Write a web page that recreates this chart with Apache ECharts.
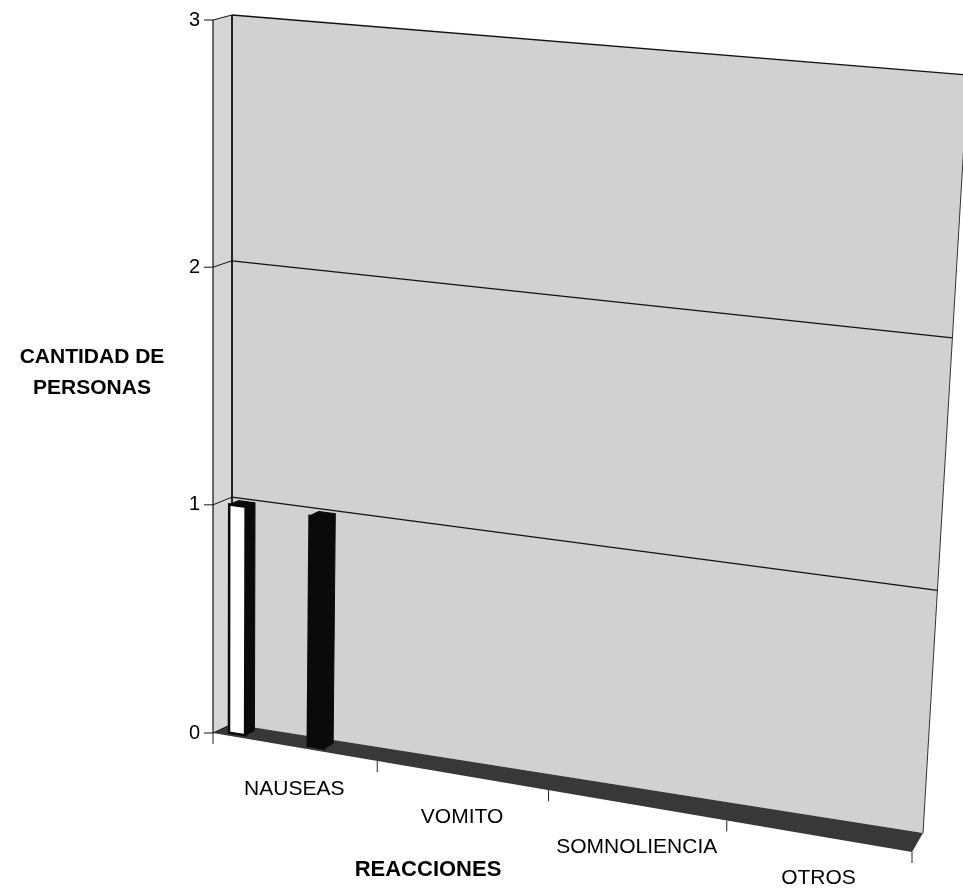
<!DOCTYPE html>
<html>
<head>
<meta charset="utf-8">
<title>Reacciones</title>
<script src="https://cdn.jsdelivr.net/npm/echarts@6/dist/echarts.min.js"></script>
<style>
  html, body { margin: 0; padding: 0; background: #ffffff; }
  #chart { width: 963px; height: 889px; }
</style>
</head>
<body>
<div id="chart"></div>
<script>
// Chart data
const categories = ['NAUSEAS', 'VOMITO', 'SOMNOLIENCIA', 'OTROS'];
const serieBlanca = [1, 0, 0, 0];
const serieNegra = [1, 0, 0, 0];
const valueTicks = [0, 1, 2, 3];
const yAxisName = ['CANTIDAD DE', 'PERSONAS'];
const xAxisName = 'REACCIONES';

const FONT = '"Liberation Sans", Arial, sans-serif';
const NCAT = categories.length;
const VMAX = valueTicks[valueTicks.length - 1];

// Perspective frame: front plane and back wall corners (screen px)
const FRONT = { bl: [213, 733], br: [912, 852], tl: [213, 20], tr: [954, 90] };
const BACK  = { bl: [232, 724], br: [923, 833], tl: [232, 15], tr: [968, 75] };

function lerp(a, b, k) { return [a[0] + (b[0] - a[0]) * k, a[1] + (b[1] - a[1]) * k]; }
function quadPoint(q, u, v) {
  return lerp(lerp(q.bl, q.br, u), lerp(q.tl, q.tr, u), v);
}

// Maps (category position, value, depth 0..1) to screen through the grid's scales
function makeProjector(api) {
  const o = api.coord([0, 0]);
  const e = api.coord([NCAT, VMAX]);
  return function (xv, yv, d) {
    const p = api.coord([xv, yv]);
    const s = (p[0] - o[0]) / (e[0] - o[0]);
    const t = (p[1] - o[1]) / (e[1] - o[1]);
    const gs = 0.92 * s + 0.08 * s * s;
    const ft = 0.94 * t + 0.06 * t * t;
    return lerp(quadPoint(FRONT, gs, ft), quadPoint(BACK, gs, ft), d);
  };
}

function poly(points, style, z2) {
  return { type: 'polygon', shape: { points: points }, style: style, z2: z2 || 0 };
}
function line(points, style, z2) {
  return { type: 'polyline', shape: { points: points }, style: Object.assign({ fill: null }, style), z2: z2 || 0 };
}
function text(str, x, y, font, align, vAlign) {
  return {
    type: 'text',
    style: {
      text: str, x: x, y: y, font: font, fill: '#000',
      align: align, verticalAlign: vAlign,
      textAlign: align, textVerticalAlign: vAlign
    },
    z2: 20
  };
}

function renderFrame(params, api) {
  const P = makeProjector(api);
  const children = [];
  // left side wall
  children.push(poly([P(0, 0, 0), P(0, 0, 1), P(0, VMAX, 1), P(0, VMAX, 0)], { fill: '#d6d6d6' }, 1));
  // back wall
  children.push(poly([P(0, 0, 1), P(NCAT, 0, 1), P(NCAT, VMAX, 1), P(0, VMAX, 1)], { fill: '#d1d1d1' }, 1));
  // floor
  children.push(poly([P(0, 0, 0), P(NCAT, 0, 0), P(NCAT, 0, 1), P(0, 0, 1)], { fill: '#383838' }, 2));
  // gridlines on back wall and side wall, value ticks and labels
  valueTicks.forEach(function (v) {
    if (v > 0) {
      children.push(line([P(0, v, 1), P(NCAT, v, 1)], { stroke: '#111', lineWidth: 1.3 }, 3));
    }
    children.push(line([P(0, v, 0), P(0, v, 1)], { stroke: '#111', lineWidth: 1 }, 3));
    const a = P(0, v, 0);
    children.push(line([[a[0] - 9, a[1]], a], { stroke: '#111', lineWidth: 1 }, 3));
    children.push(text(String(v), a[0] - 13, a[1], '20px ' + FONT, 'right', 'middle'));
  });
  // wall edges
  children.push(line([P(0, 0, 1), P(0, VMAX, 1)], { stroke: '#111', lineWidth: 1.8 }, 3));
  children.push(line([P(NCAT, 0, 1), P(NCAT, VMAX, 1)], { stroke: '#333', lineWidth: 1 }, 3));
  // front value axis
  children.push(line([P(0, 0, 0), P(0, VMAX, 0)], { stroke: '#111', lineWidth: 1.2 }, 3));
  // category ticks along the front edge
  for (let i = 0; i <= NCAT; i++) {
    const b = P(i, 0, 0);
    children.push(line([b, [b[0], b[1] + 11]], { stroke: '#222', lineWidth: 1 }, 3));
  }
  categories.forEach(function (c, i) {
    const b = P(i + 0.5, 0, 0);
    children.push(text(c, b[0], b[1] + 42, '21px ' + FONT, 'center', 'middle'));
  });
  return { type: 'group', children: children };
}

// 3D column with front, right side and top faces
function makeBarRenderer(offset, width, frontFill) {
  return function (params, api) {
    const i = api.value(0);
    const v = api.value(1);
    if (!(v > 0)) return null;
    const P = makeProjector(api);
    const x0 = i + offset - width / 2;
    const x1 = i + offset + width / 2;
    const d0 = 0.25, d1 = 0.75;
    const dark = { fill: '#0a0a0a', stroke: '#0a0a0a', lineWidth: 1 };
    return {
      type: 'group',
      children: [
        poly([P(x1, 0, d0), P(x1, 0, d1), P(x1, v, d1), P(x1, v, d0)], dark, 10),
        poly([P(x0, v, d0), P(x1, v, d0), P(x1, v, d1), P(x0, v, d1)], dark, 11),
        poly([P(x0, 0, d0), P(x1, 0, d0), P(x1, v, d0), P(x0, v, d0)],
          { fill: frontFill, stroke: '#0a0a0a', lineWidth: 2.5 }, 12)
      ]
    };
  };
}

const titleStyle = function (str, x, y, size) {
  return {
    type: 'text',
    style: {
      text: str, x: x, y: y, font: 'bold ' + size + 'px ' + FONT, fill: '#000',
      align: 'center', verticalAlign: 'middle', textAlign: 'center', textVerticalAlign: 'middle'
    }
  };
};

const chart = echarts.init(document.getElementById('chart'), null, { renderer: 'canvas' });
chart.setOption({
  animation: false,
  backgroundColor: '#ffffff',
  grid: { left: 0, right: 0, top: 0, bottom: 0 },
  xAxis: { type: 'value', min: 0, max: NCAT, show: false },
  yAxis: { type: 'value', min: 0, max: VMAX, interval: 1, show: false },
  graphic: [
    titleStyle(yAxisName[0], 92, 357, 21),
    titleStyle(yAxisName[1], 92, 388, 21),
    titleStyle(xAxisName, 428, 870, 22)
  ],
  series: [
    {
      type: 'custom', name: 'marco', clip: false, z: 1, silent: true,
      renderItem: renderFrame, data: [[0, 0]]
    },
    {
      type: 'custom', name: 'Serie 1', clip: false, z: 5,
      renderItem: makeBarRenderer(0.12, 0.1, '#ffffff'),
      data: serieBlanca.map(function (v, i) { return [i, v]; })
    },
    {
      type: 'custom', name: 'Serie 2', clip: false, z: 5,
      renderItem: makeBarRenderer(0.605, 0.1, '#0a0a0a'),
      data: serieNegra.map(function (v, i) { return [i, v]; })
    }
  ]
});
</script>
</body>
</html>
